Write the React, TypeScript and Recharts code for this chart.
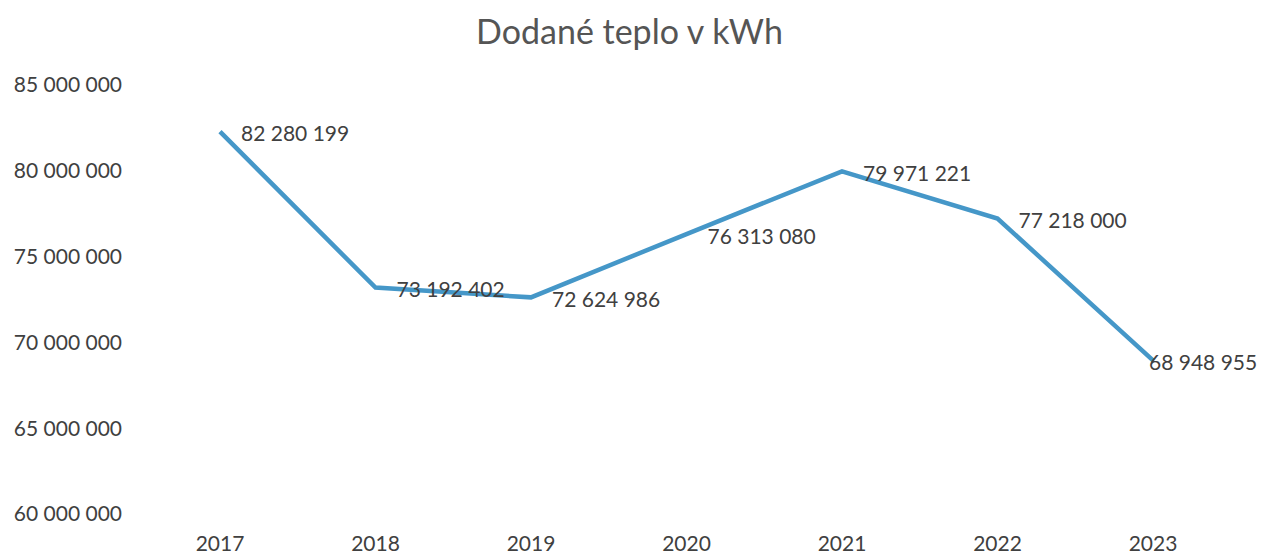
import React from 'react';
import { LineChart, Line, XAxis, YAxis, LabelList } from 'recharts';

const years = ['2017', '2018', '2019', '2020', '2021', '2022', '2023'];
const heat = [82280199, 73192402, 72624986, 76313080, 79971221, 77218000, 68948955];
const yTicks = [60000000, 65000000, 70000000, 75000000, 80000000, 85000000];

const data = years.map((year, i) => ({ year, value: heat[i] }));

const fmt = (v: number) => String(Math.round(v)).replace(/\B(?=(\d{3})+(?!\d))/g, ' ');

const FONT = 'Lato, "Open Sans", sans-serif';
const TEXT = '#404040';
const W = 1253;

// value label to the right of the point, pulled back inside if it would run off the edge
const ValueLabel = (props: any) => {
  const { x, y, value } = props;
  const labelW = 108;
  let tx = x + 21;
  if (tx + labelW > W - 4) tx = W - 4 - labelW;
  return (
    <text
      x={tx}
      y={y + 2}
      dy="0.355em"
      fill={TEXT}
      fontSize={21}
      fontFamily={FONT}
    >
      {fmt(value)}
    </text>
  );
};

const App: React.FC = () => (
  <div style={{ position: 'relative', width: W, height: 549, fontFamily: FONT }}>
    <div
      style={{
        position: 'absolute',
        top: 2,
        left: 0,
        width: W - 10,
        textAlign: 'center',
        fontSize: 34,
        color: '#555555',
        fontFamily: FONT,
      }}
    >
      Dodané teplo v kWh
    </div>
    <LineChart
      width={W}
      height={549}
      data={data}
      margin={{ top: 77, right: 23, bottom: 13, left: 0 }}
    >
      <XAxis
        dataKey="year"
        height={30}
        padding={{ left: 78, right: 85 }}
        axisLine={false}
        tickLine={false}
        tickMargin={16}
        tick={{ fill: TEXT, fontSize: 21, fontFamily: FONT }}
      />
      <YAxis
        width={134}
        domain={[60000000, 85000000]}
        ticks={yTicks}
        axisLine={false}
        tickLine={false}
        tickMargin={14}
        tickFormatter={fmt}
        tick={{ fill: TEXT, fontSize: 21, fontFamily: FONT }}
      />
      <Line
        type="linear"
        dataKey="value"
        stroke="#4597c8"
        strokeWidth={4.5}
        dot={false}
        isAnimationActive={false}
      >
        <LabelList dataKey="value" content={ValueLabel} />
      </Line>
    </LineChart>
  </div>
);

export default App;
